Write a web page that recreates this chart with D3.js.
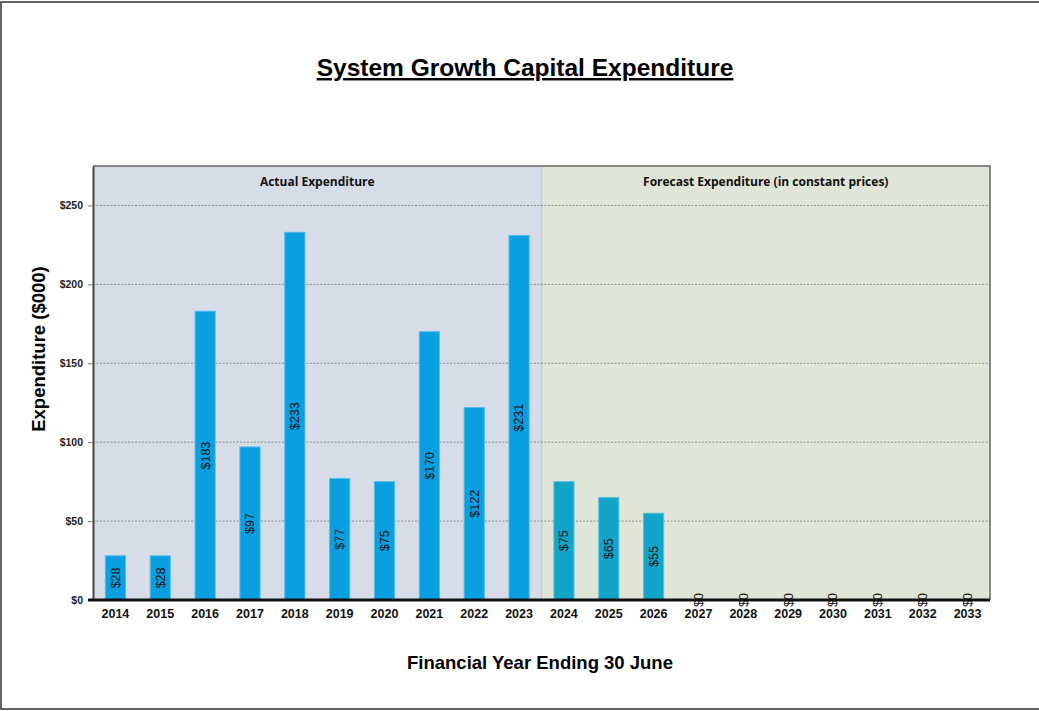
<!DOCTYPE html>
<html>
<head>
<meta charset="utf-8">
<script src="https://cdn.jsdelivr.net/npm/d3@7"></script>
<style>
  body { margin: 0; background: #fff; }
  svg { display: block; }
</style>
</head>
<body>
<svg id="chart" width="1039" height="711"></svg>
<script>
'use strict'

// chart data
var years = ['2014', '2015', '2016', '2017', '2018', '2019', '2020', '2021', '2022', '2023',
  '2024', '2025', '2026', '2027', '2028', '2029', '2030', '2031', '2032', '2033']
var actualValues = [28, 28, 183, 97, 233, 77, 75, 170, 122, 231]
var forecastValues = [75, 65, 55, 0, 0, 0, 0, 0, 0, 0]
var yTicks = [0, 50, 100, 150, 200, 250]
var periods = ['Actual Expenditure', 'Forecast Expenditure (in constant prices)']

var svg = d3.select('#chart')
var margin = { left: 93, top: 166, right: 990, bottom: 600 }

var rows = years.map((y, i) => ({
  year: y,
  value: i < actualValues.length ? actualValues[i] : forecastValues[i - actualValues.length],
  forecast: i >= actualValues.length
}))

var x = d3.scaleBand()
  .domain(years)
  .range([margin.left, margin.right])
  .paddingInner(0.55)
  .paddingOuter(0.275)

var y = d3.scaleLinear()
  .domain([0, 275])
  .range([margin.bottom, margin.top])

// outer frame
svg.append('rect')
  .attr('x', 1).attr('y', 2)
  .attr('width', 1045).attr('height', 707)
  .attr('fill', 'none')
  .attr('stroke', '#333')
  .attr('stroke-width', 1.5)

// title
svg.append('text')
  .attr('x', 525).attr('y', 76)
  .attr('text-anchor', 'middle')
  .attr('font-family', '"Liberation Sans", Arial, sans-serif')
  .attr('font-weight', 'bold')
  .attr('font-size', 24.5)
  .attr('text-decoration', 'underline')
  .text('System Growth Capital Expenditure')

// background regions
var step = (margin.right - margin.left) / years.length
var split = margin.left + step * actualValues.length
var regions = [
  { x0: margin.left, x1: split, fill: '#d6dde9', label: periods[0] },
  { x0: split, x1: margin.right, fill: '#dfe5d7', label: periods[1] }
]

svg.append('g').selectAll('rect')
  .data(regions)
  .enter().append('rect')
    .attr('x', (d) => d.x0)
    .attr('y', margin.top)
    .attr('width', (d) => d.x1 - d.x0)
    .attr('height', margin.bottom - margin.top)
    .attr('fill', (d) => d.fill)

svg.append('line')
  .attr('x1', split).attr('x2', split)
  .attr('y1', margin.top).attr('y2', margin.bottom)
  .attr('stroke', '#c4cdd8')
  .attr('stroke-width', 1.5)

svg.append('g').selectAll('text')
  .data(regions)
  .enter().append('text')
    .attr('x', (d) => (d.x0 + d.x1) / 2)
    .attr('y', 186)
    .attr('text-anchor', 'middle')
    .attr('font-family', '"Open Sans", sans-serif')
    .attr('font-weight', 'bold')
    .attr('font-size', 12)
    .attr('fill', '#111')
    .text((d) => d.label)

// gridlines
svg.append('g').selectAll('line')
  .data(yTicks.filter((t) => t > 0))
  .enter().append('line')
    .attr('x1', margin.left).attr('x2', margin.right)
    .attr('y1', (d) => y(d)).attr('y2', (d) => y(d))
    .attr('stroke', '#777')
    .attr('stroke-width', 0.8)
    .attr('stroke-dasharray', '2,1.5')

// plot border (top/right)
svg.append('path')
  .attr('d', `M${margin.left},${margin.top}H${margin.right}V${margin.bottom}`)
  .attr('fill', 'none')
  .attr('stroke', '#666')
  .attr('stroke-width', 1.5)

// bars
svg.append('g').selectAll('rect')
  .data(rows)
  .enter().append('rect')
    .attr('x', (d) => x(d.year))
    .attr('y', (d) => y(d.value))
    .attr('width', x.bandwidth())
    .attr('height', (d) => y(0) - y(d.value))
    .attr('fill', (d) => d.forecast ? '#12a4c9' : '#0a9fe0')
    .attr('stroke', (d) => d.forecast ? '#5cc3dc' : '#52bdec')
    .attr('stroke-width', 1)

// y axis
var yAxis = svg.append('g')
  .attr('transform', `translate(${margin.left},0)`)
  .call(d3.axisLeft(y).tickValues(yTicks).tickSize(5).tickSizeOuter(0).tickFormat((d) => '$' + d))
yAxis.select('.domain').attr('stroke', '#444').attr('stroke-width', 2)
yAxis.selectAll('.tick line').attr('stroke', '#777')
yAxis.selectAll('.tick text')
  .attr('font-family', '"Liberation Sans", Arial, sans-serif')
  .attr('font-weight', 'bold')
  .attr('font-size', 10.5)
  .attr('fill', '#222')
  .attr('dx', -2)

// x axis
var xAxis = svg.append('g')
  .attr('transform', `translate(0,${margin.bottom})`)
  .call(d3.axisBottom(x).tickSize(0).tickPadding(9))
xAxis.select('.domain')
  .attr('d', `M${margin.left - 5},0H${margin.right}`)
  .attr('stroke', '#111').attr('stroke-width', 3)
xAxis.selectAll('.tick text')
  .attr('font-family', '"Liberation Sans", Arial, sans-serif')
  .attr('font-weight', 'bold')
  .attr('font-size', 12.5)
  .attr('fill', '#111')

// value labels
svg.append('g').selectAll('text')
  .data(rows)
  .enter().append('text')
    .attr('transform', (d) => {
      var cx = x(d.year) + x.bandwidth() / 2
      var cy = (y(d.value) + y(0)) / 2
      return `translate(${cx},${cy}) rotate(-90)`
    })
    .attr('text-anchor', 'middle')
    .attr('dy', '0.35em')
    .attr('font-family', '"Liberation Sans", Arial, sans-serif')
    .attr('font-size', 12.5)
    .attr('fill', '#111')
    .text((d) => '$' + d.value)

// axis titles
svg.append('text')
  .attr('transform', 'translate(45,349) rotate(-90)')
  .attr('text-anchor', 'middle')
  .attr('font-family', '"Liberation Sans", Arial, sans-serif')
  .attr('font-weight', 'bold')
  .attr('font-size', 18.5)
  .text('Expenditure ($000)')

svg.append('text')
  .attr('x', 540).attr('y', 669)
  .attr('text-anchor', 'middle')
  .attr('font-family', '"Liberation Sans", Arial, sans-serif')
  .attr('font-weight', 'bold')
  .attr('font-size', 18.5)
  .text('Financial Year Ending 30 June')
</script>
</body>
</html>
